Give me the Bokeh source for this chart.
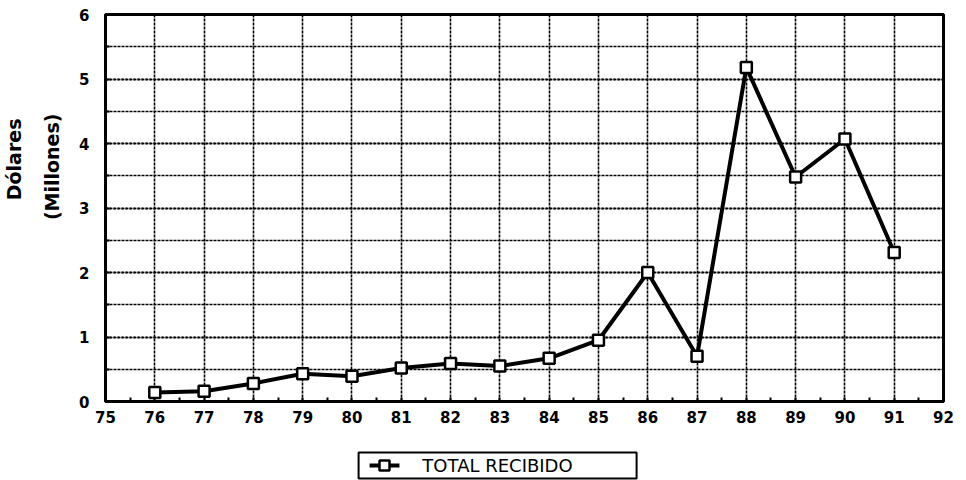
from bokeh.plotting import figure
from bokeh.layouts import column
from bokeh.models import SingleIntervalTicker, FixedTicker, ColumnDataSource, Title
from bokeh.core.properties import value
from bokeh.embed import file_html
from bokeh.resources import INLINE

# Annual totals received (millions of dollars)
years = [76, 77, 78, 79, 80, 81, 82, 83, 84, 85, 86, 87, 88, 89, 90, 91]
totals = [0.14, 0.16, 0.28, 0.43, 0.39, 0.52, 0.59, 0.55, 0.67, 0.95,
          2.00, 0.70, 5.18, 3.48, 4.07, 2.31]
series_label = "TOTAL RECIBIDO"
y_title_1 = "Dólares"
y_title_2 = "(Millones)"

src = ColumnDataSource(dict(year=years, total=totals))

chart = figure(width=966, height=428, x_range=(75, 92), y_range=(0, 6),
               output_backend="svg", toolbar_location=None,
               min_border_left=102, min_border_right=23,
               min_border_top=14, min_border_bottom=27)
chart.background_fill_color = "white"
chart.border_fill_color = "white"
chart.outline_line_color = "black"
chart.outline_line_width = 3

tick_font = "DejaVu Sans"

# x axis
chart.xaxis.ticker = SingleIntervalTicker(interval=1, num_minor_ticks=2)
chart.xaxis.axis_line_width = 3
chart.xaxis.major_tick_in = 0
chart.xaxis.major_tick_out = 0
chart.xaxis.minor_tick_in = 4
chart.xaxis.minor_tick_out = 0
chart.xaxis.minor_tick_line_width = 2
chart.xaxis.major_label_text_font = tick_font
chart.xaxis.major_label_text_font_size = "15px"
chart.xaxis.major_label_text_font_style = "bold"
chart.xaxis.major_label_text_color = "black"
chart.xaxis.major_label_standoff = 9

# y axis
chart.yaxis.ticker = SingleIntervalTicker(interval=1, num_minor_ticks=2)
chart.yaxis.axis_line_width = 3
chart.yaxis.major_tick_in = 0
chart.yaxis.major_tick_out = 0
chart.yaxis.minor_tick_in = 4
chart.yaxis.minor_tick_out = 0
chart.yaxis.minor_tick_line_width = 2
chart.yaxis.major_label_text_font = tick_font
chart.yaxis.major_label_text_font_size = "15px"
chart.yaxis.major_label_text_font_style = "bold"
chart.yaxis.major_label_text_color = "black"
chart.yaxis.major_label_standoff = 16

# two-line vertical axis title in the left margin, set toward the upper part
for txt, standoff, offset in ((y_title_2, 28, 99), (y_title_1, 0, 104)):
    chart.add_layout(Title(text=txt, align="right", offset=offset, standoff=standoff,
                           text_font=tick_font, text_font_style="bold",
                           text_font_size="19px", text_color="black"), "left")

# grid: vertical lines at every year, horizontal every half million
chart.xgrid.ticker = FixedTicker(ticks=list(range(76, 92)))
chart.xgrid.grid_line_color = "black"
chart.xgrid.grid_line_width = 1.6
chart.xgrid.grid_line_dash = "3 1"
chart.ygrid.grid_line_color = "black"
chart.ygrid.grid_line_width = 1.8
chart.ygrid.grid_line_dash = "2 2"
chart.ygrid.minor_grid_line_color = "black"
chart.ygrid.minor_grid_line_width = 1.4
chart.ygrid.minor_grid_line_dash = "3 1"

chart.line("year", "total", source=src, line_color="black", line_width=4)
chart.scatter("year", "total", source=src, marker="square", size=11,
              fill_color="white", line_color="black", line_width=2.5)

# key strip under the chart; its frame lines up with the chart frame,
# so the x range is given in page pixels across that frame
key = figure(width=966, height=52, x_range=(102, 943), y_range=(0, 52),
             output_backend="svg", toolbar_location=None,
             min_border_left=102, min_border_right=23,
             min_border_top=0, min_border_bottom=0, outline_line_color=None)
key.axis.visible = False
key.grid.visible = False
key.quad(left=[356], right=[635], bottom=[2], top=[28],
         fill_color="white", line_color="black", line_width=2)
key.segment(x0=[367], y0=[15], x1=[397], y1=[15], line_color="black", line_width=4)
key.scatter(x=[382], y=[15], marker="square", size=10,
            fill_color="white", line_color="black", line_width=2.5)
key.text(x=[420], y=[15], text=[series_label], text_baseline="middle",
         text_font=value(tick_font), text_font_size="18px", text_color="black")

p = column(chart, key, spacing=0)

open("out.html", "w").write(file_html(p, INLINE))
